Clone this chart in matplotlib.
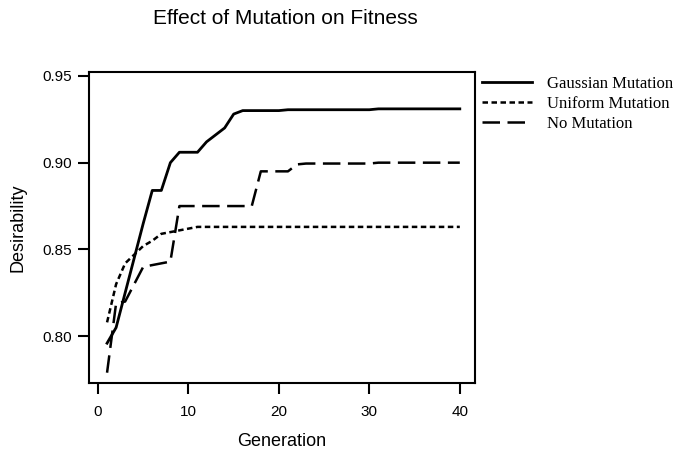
import matplotlib.pyplot as plt

generations = list(range(1, 41))

gaussian = [0.796, 0.805, 0.825, 0.845, 0.865, 0.884, 0.884, 0.900, 0.906, 0.906,
            0.906, 0.912, 0.916, 0.920, 0.928, 0.930, 0.930, 0.930, 0.930, 0.930,
            0.9305, 0.9305, 0.9305, 0.9305, 0.9305, 0.9305, 0.9305, 0.9305, 0.9305, 0.9305,
            0.931, 0.931, 0.931, 0.931, 0.931, 0.931, 0.931, 0.931, 0.931, 0.931]

uniform = [0.808, 0.830, 0.842, 0.847, 0.852, 0.855, 0.859, 0.860, 0.861, 0.862,
           0.863, 0.863, 0.863, 0.863, 0.863, 0.863, 0.863, 0.863, 0.863, 0.863,
           0.863, 0.863, 0.863, 0.863, 0.863, 0.863, 0.863, 0.863, 0.863, 0.863,
           0.863, 0.863, 0.863, 0.863, 0.863, 0.863, 0.863, 0.863, 0.863, 0.863]

no_mutation = [0.779, 0.819, 0.820, 0.830, 0.840, 0.841, 0.842, 0.843, 0.875, 0.875,
               0.875, 0.875, 0.875, 0.875, 0.875, 0.875, 0.875, 0.895, 0.895, 0.895,
               0.895, 0.899, 0.8995, 0.8995, 0.8995, 0.8995, 0.8995, 0.8995, 0.8995, 0.8995,
               0.900, 0.900, 0.900, 0.900, 0.900, 0.900, 0.900, 0.900, 0.900, 0.900]

labels = ['Gaussian Mutation', 'Uniform Mutation', 'No Mutation']
x_ticks = [0, 10, 20, 30, 40]
y_ticks = [0.80, 0.85, 0.90, 0.95]

plt.rcParams['font.family'] = ['Liberation Sans', 'DejaVu Sans']

fig = plt.figure(figsize=(6.74, 4.55), dpi=100)
ax = fig.add_axes([0.132, 0.158, 0.573, 0.684])

ax.plot(generations, gaussian, color='black', lw=2.0, label=labels[0])
ax.plot(generations, uniform, color='black', lw=1.8, dashes=(2.2, 1.4), label=labels[1])
ax.plot(generations, no_mutation, color='black', lw=1.8, dashes=(7, 3), label=labels[2])

ax.set_xlim(-1, 41.7)
ax.set_ylim(0.773, 0.9523)
ax.set_xticks(x_ticks)
ax.set_yticks(y_ticks)
ax.set_yticklabels(['%.2f' % v for v in y_ticks])
ax.tick_params(axis='both', direction='out', length=8, width=1.5, labelsize=11)
ax.tick_params(axis='x', pad=8)
ax.tick_params(axis='y', pad=4)
for side in ax.spines.values():
    side.set_linewidth(1.5)

ax.set_xlabel('Generation', fontsize=13, labelpad=10)
ax.set_ylabel('Desirability', fontsize=13, labelpad=12)
fig.text(0.423, 0.960, 'Effect of Mutation on Fitness', fontsize=15,
         ha='center', va='center')

fig.legend(loc='upper left', bbox_to_anchor=(0.715, 0.834), frameon=False,
           prop={'family': 'Liberation Serif', 'size': 12},
           handlelength=3.0, handletextpad=0.9, labelspacing=0.26,
           borderpad=0, borderaxespad=0)

plt.savefig('out.png', dpi=100)
